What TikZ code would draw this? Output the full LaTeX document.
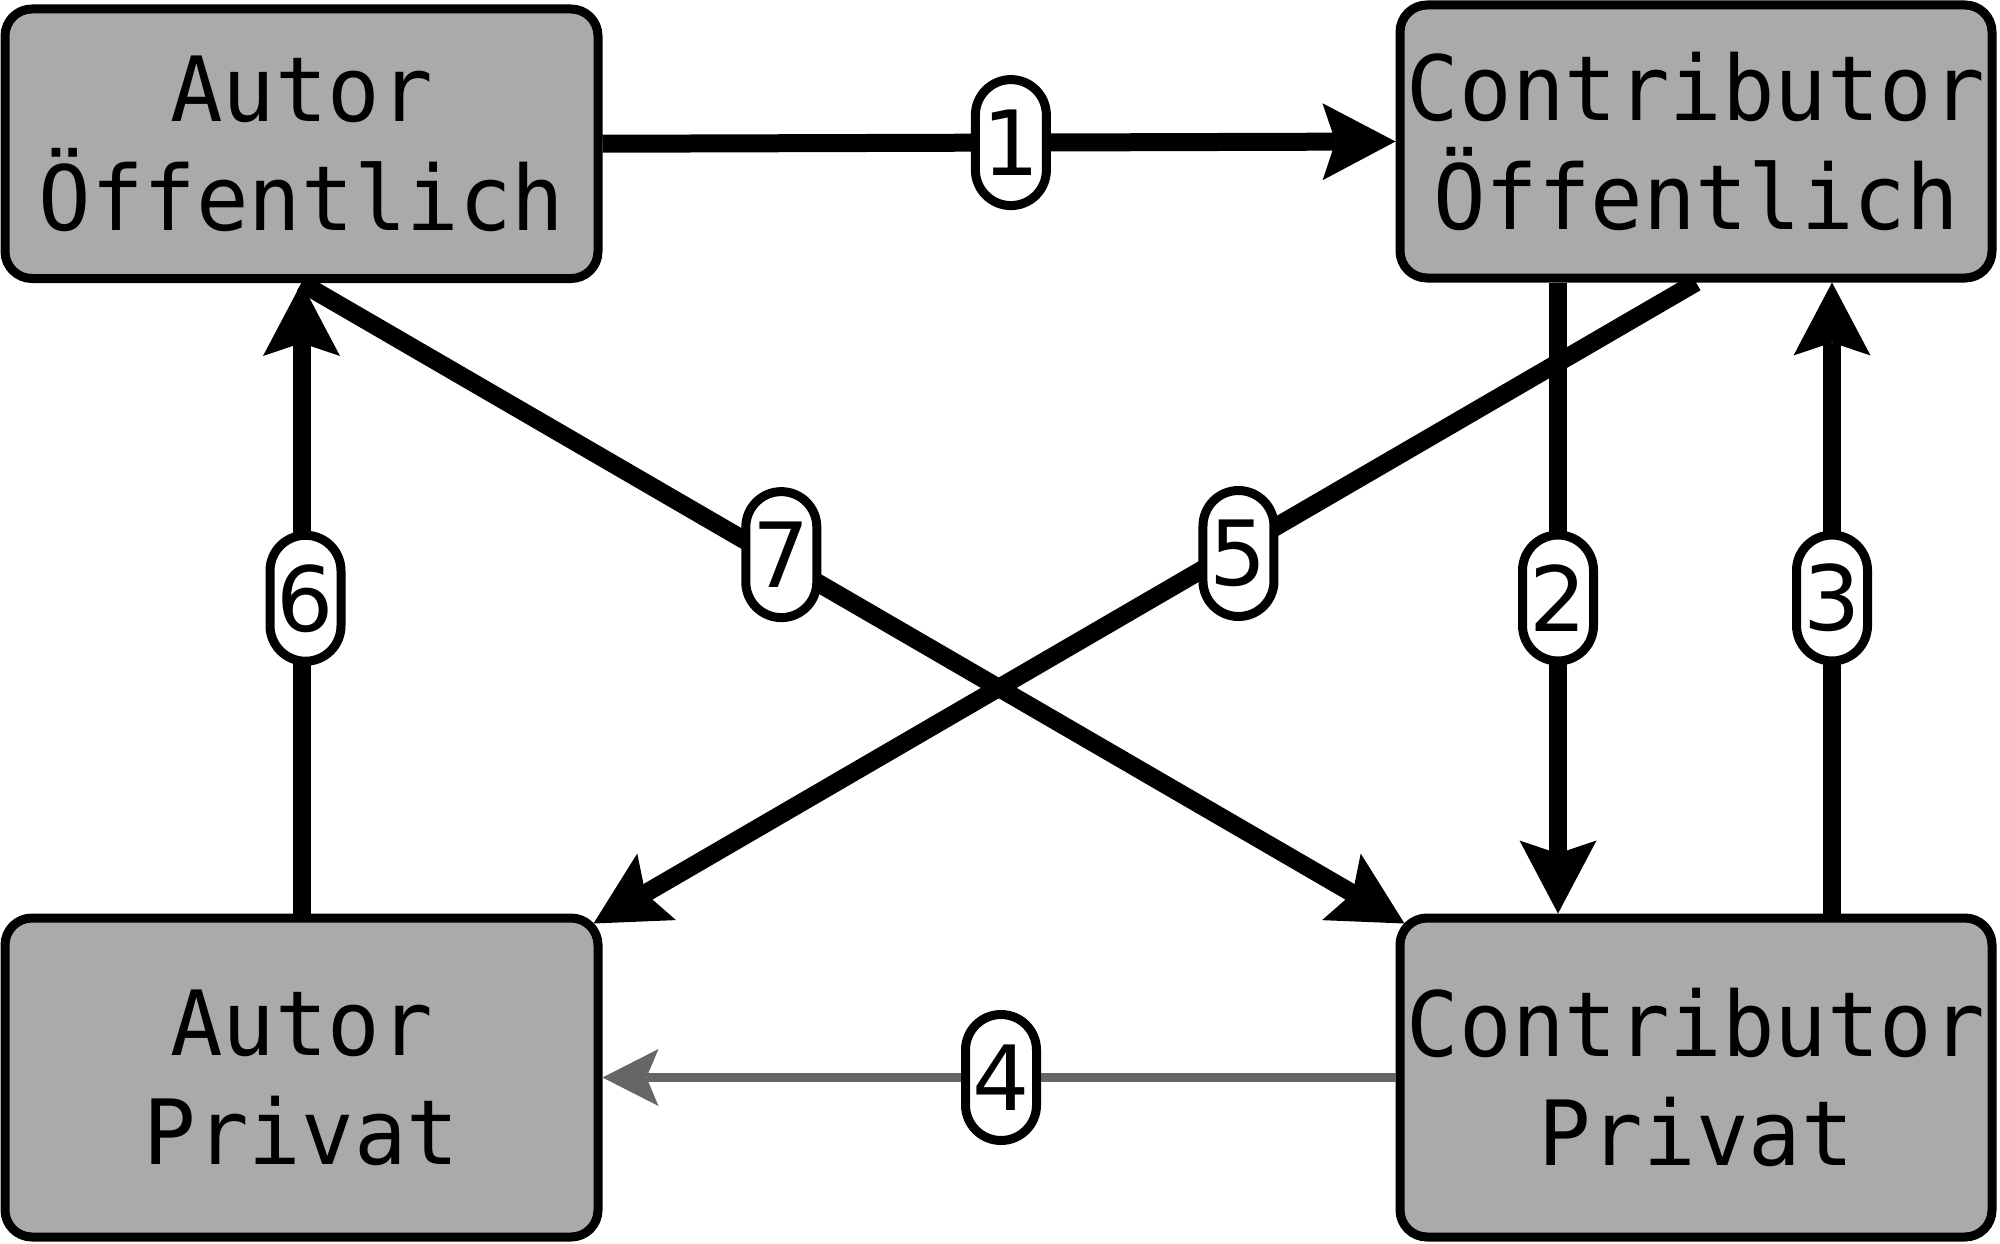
\documentclass[tikz,border=0pt]{standalone}
\usepackage{fontspec}
\usetikzlibrary{arrows.meta}
\newfontfamily\boxfont[FakeStretch=0.97]{DejaVu Sans Mono}
\newfontfamily\numfont{DejaVu Sans}
\definecolor{boxgray}{HTML}{AAAAAA}
\definecolor{linkgray}{HTML}{666666}
\tikzset{
  statebox/.style={draw=black, fill=boxgray, line width=9pt, rounded corners=27pt,
    inner sep=0pt, align=center, font=\boxfont\fontsize{90}{109}\selectfont},
  steplabel/.style={draw=black, fill=white, line width=9pt, rounded corners=35.5pt,
    minimum width=71pt, minimum height=126pt, inner sep=0pt,
    font=\numfont\fontsize{90}{100}\selectfont},
  bigflow/.style={draw=black, line width=18pt,
    -{Stealth[length=73pt, width=77pt, inset=13pt, line width=0pt]}},
  thinflow/.style={draw=linkgray, line width=9pt,
    -{Stealth[length=56pt, width=57pt, inset=12pt, line width=0pt]}}
}
\begin{document}
\begin{tikzpicture}[x=1pt, y=-1pt]
  \useasboundingbox (0,0) rectangle (2000,1244);

  % the four states
  \node[statebox, minimum width=593pt, minimum height=269.5pt] (ao) at (301.5,143.75)
    {Autor\\Öffentlich};
  \node[statebox, minimum width=592pt, minimum height=273pt] (co) at (1696,141.5)
    {Contributor\\Öffentlich};
  \node[statebox, minimum width=593pt, minimum height=319pt] (ap) at (301.5,1077.5)
    {Autor\\Privat};
  \node[statebox, minimum width=592pt, minimum height=319pt] (cp) at (1696,1077.5)
    {Contributor\\Privat};

  % transitions
  \draw[bigflow] (ao.east) -- node[steplabel, pos=0.515] {1} (co.west);
  \draw[bigflow] ([xshift=-138pt]co.south) -- node[steplabel] {2} ([xshift=-138pt]cp.north);
  \draw[bigflow] ([xshift=136pt]cp.north) -- node[steplabel] {3} ([xshift=136pt]co.south);
  \draw[thinflow] (cp.west) -- node[steplabel, xshift=2pt] {4} (ap.east);
  \draw[bigflow] (co.south) -- node[steplabel, pos=0.415, yshift=-5pt] {5} ([shift={(-9,10)}]ap.north east);
  \draw[bigflow] (ap.north) -- node[steplabel, xshift=4pt] {6} (ao.south);
  \draw[bigflow] (ao.south) -- node[steplabel, pos=0.435, yshift=7pt] {7} ([shift={(9,10)}]cp.north west);
\end{tikzpicture}
\end{document}
